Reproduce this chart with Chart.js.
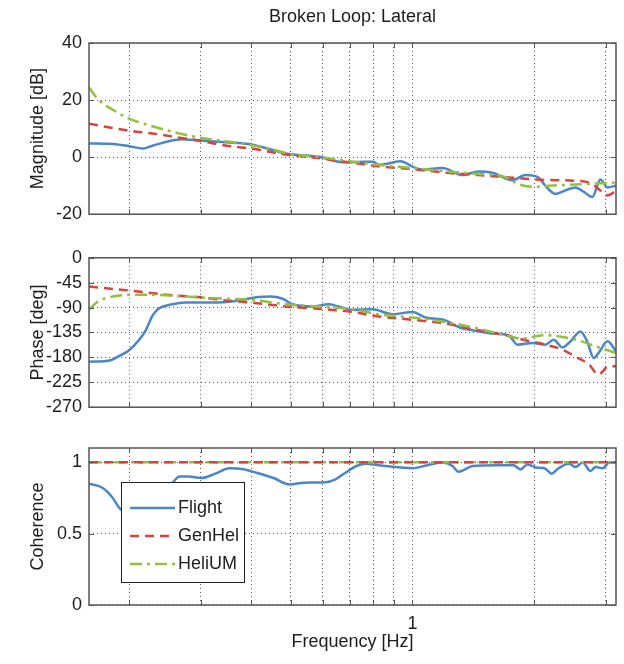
<!DOCTYPE html>
<html>
<head>
<meta charset="utf-8">
<title>Broken Loop: Lateral</title>
<script src="https://cdn.jsdelivr.net/npm/chart.js@4.4.1/dist/chart.umd.min.js"></script>
<style>
  html, body { margin: 0; padding: 0; background: #fff; }
  body { width: 624px; height: 664px; position: relative; overflow: hidden; }
  canvas { position: absolute; left: 0; }
  #magChart { top: 0; }
  #phaseChart { top: 240px; }
  #cohChart { top: 430px; }
</style>
</head>
<body>
<canvas id="magChart" width="624" height="232"></canvas>
<canvas id="phaseChart" width="624" height="185"></canvas>
<canvas id="cohChart" width="624" height="234"></canvas>

<script>
// ---------- Axes ----------
const freqMin = 0.159;   // 1 rad/s
const freqMax = 3.18;    // 20 rad/s
const freqTicks = [0.2, 0.3, 0.4, 0.5, 0.6, 0.7, 0.8, 0.9, 1, 2, 3];
const magTicks = [-20, 0, 20, 40];
const phaseTicks = [-270, -225, -180, -135, -90, -45, 0];
const cohTicks = [0, 0.5, 1];

// ---------- Magnitude [dB] ----------
const flightMagFreq = [0.159, 0.182, 0.199, 0.216, 0.228, 0.25, 0.27, 0.296, 0.345, 0.394, 0.434, 0.486, 0.586, 0.657, 0.69,
  0.765, 0.801, 0.824, 0.872, 0.934, 1.0, 1.058, 1.186, 1.329, 1.455, 1.576, 1.766, 1.9, 2.047, 2.13, 2.254, 2.4, 2.525,
  2.65, 2.78, 2.91, 3.03, 3.18];
const flightMag = [4.8, 4.6, 3.9, 3.0, 4.0, 5.6, 6.3, 5.9, 5.2, 4.6, 3.2, 1.3, 0.1, -1.6, -1.8,
  -1.6, -1.6, -2.7, -2.2, -1.4, -3.3, -4.4, -3.8, -6.3, -5.0, -5.5, -8.1, -6.3, -7.2, -10.1, -12.9, -11.5, -10.6,
  -12.2, -14.0, -7.8, -10.6, -10.0];

const genhelMagFreq = [0.159, 0.199, 0.228, 0.264, 0.296, 0.345, 0.403, 0.486, 0.586, 0.695, 0.824, 1.0, 1.22, 1.455,
  1.766, 2.13, 2.6, 2.78, 2.9, 3.03, 3.18];
const genhelMag = [11.7, 9.3, 8.3, 6.9, 5.8, 4.1, 2.9, 0.9, -0.3, -1.8, -3.2, -4.2, -5.5, -6.3,
  -7.2, -8.0, -8.4, -9.5, -11.5, -13.4, -11.8];

const heliumMagFreq = [0.159, 0.168, 0.182, 0.199, 0.228, 0.264, 0.296, 0.345, 0.403, 0.459, 0.506, 0.586, 0.683, 0.824,
  1.0, 1.206, 1.455, 1.697, 1.827, 1.977, 2.13, 2.6, 3.18];
const heliumMag = [24.4, 20.0, 16.6, 13.6, 10.8, 8.4, 6.9, 5.6, 4.1, 2.4, 0.9, 0.1, -1.2, -2.7,
  -3.8, -5.0, -5.9, -7.0, -9.5, -10.4, -10.1, -9.5, -8.9];

// ---------- Phase [deg] ----------
const flightPhaseFreq = [0.159, 0.18, 0.188, 0.199, 0.211, 0.2195, 0.228, 0.236, 0.2555, 0.275, 0.321, 0.366, 0.417,
  0.446, 0.478, 0.5055, 0.566, 0.62, 0.657, 0.711, 0.797, 0.892, 1.0, 1.077, 1.206, 1.299, 1.407, 1.576, 1.726, 1.816,
  1.977, 2.13, 2.23, 2.345, 2.455, 2.597, 2.7, 2.8, 2.88, 3.03, 3.18];
const flightPhase = [-188, -185, -178, -168, -149, -131, -105, -92, -84, -81, -81, -78, -71,
  -70, -74, -84, -88, -84, -88, -94, -93, -102, -98, -108, -113, -125, -131, -137, -140, -157,
  -154, -157, -148, -162, -151, -133, -151, -181, -172, -151, -169];

const genhelPhaseFreq = [0.159, 0.199, 0.25, 0.296, 0.345, 0.403, 0.486, 0.586, 0.711, 0.824, 1.0, 1.206, 1.455, 1.697,
  1.9, 2.13, 2.345, 2.56, 2.72, 2.88, 3.03, 3.18];
const genhelPhase = [-52, -59, -67, -71, -77, -81, -88, -92, -98, -106, -112, -119, -131, -140,
  -149, -157, -166, -181, -192, -211, -197, -196];

const heliumPhaseFreq = [0.159, 0.168, 0.182, 0.199, 0.228, 0.275, 0.345, 0.403, 0.486, 0.586, 0.711, 0.824, 1.0, 1.206,
  1.455, 1.697, 1.86, 1.977, 2.13, 2.345, 2.56, 2.83, 3.18];
const heliumPhase = [-93, -78, -70, -67, -67, -70, -74, -76, -84, -88, -93, -102, -108, -116,
  -128, -140, -146, -143, -140, -143, -149, -160, -172];

// ---------- Coherence ----------
const flightCohFreq = [0.159, 0.172, 0.182, 0.189, 0.2, 0.212, 0.225, 0.24, 0.255, 0.266, 0.28, 0.301, 0.326, 0.353,
  0.3825, 0.412, 0.454, 0.497, 0.541, 0.61, 0.645, 0.683, 0.727, 0.77, 0.815, 0.882, 0.995, 1.095, 1.186, 1.255, 1.299,
  1.407, 1.611, 1.775, 1.848, 1.923, 2.035, 2.118, 2.205, 2.294, 2.43, 2.526, 2.63, 2.751, 2.83, 2.945, 3.065, 3.18];
const flightCoh = [0.85, 0.82, 0.75, 0.68, 0.62, 0.58, 0.63, 0.74, 0.85, 0.90, 0.90, 0.89, 0.92, 0.958,
  0.951, 0.927, 0.89, 0.845, 0.857, 0.86, 0.88, 0.927, 0.974, 0.99, 0.981, 0.97, 0.958, 0.981, 0.998, 0.974, 0.934,
  0.974, 0.98, 0.98, 0.95, 0.985, 0.962, 0.958, 0.92, 0.958, 0.99, 0.967, 0.998, 0.939, 0.967, 0.958, 0.998, 0.998];

const modelCohFreq = [0.159, 3.18];
const genhelCoh = [1, 1];
const heliumCoh = [1, 1];

// ---------- Styles ----------
const FONT = "'Liberation Sans', Arial, sans-serif";
const TEXT = "#1e1e1e";
const FRAME = "#555";

const SERIES = {
  Flight: { color: "#4a86c8", dash: [], width: 2.5 },
  GenHel: { color: "#d6453d", dash: [9, 6], width: 2.5 },
  HeliUM: { color: "#96c03c", dash: [12, 5, 3, 5], width: 2.5 }
};
const legendOrder = ["Flight", "GenHel", "HeliUM"];

const pts = (f, v) => f.map((x, i) => ({ x, y: v[i] }));

function line(name, freq, vals, order) {
  const s = SERIES[name];
  return {
    label: name,
    data: pts(freq, vals),
    borderColor: s.color,
    borderDash: s.dash,
    borderWidth: s.width,
    pointRadius: 0,
    fill: false,
    cubicInterpolationMode: "monotone",
    order
  };
}

// ---------- Plugins ----------
// solid box round the plot area with MATLAB-style inward ticks
const frameBox = {
  id: "frameBox",
  afterDatasetsDraw(chart) {
    const { ctx, chartArea: a, scales } = chart;
    ctx.save();
    ctx.strokeStyle = FRAME;
    ctx.lineWidth = 1;
    ctx.beginPath();
    scales.x.ticks.forEach((t) => {
      const px = Math.round(scales.x.getPixelForValue(t.value)) + 0.5;
      ctx.moveTo(px, a.bottom); ctx.lineTo(px, a.bottom - 5);
      ctx.moveTo(px, a.top); ctx.lineTo(px, a.top + 5);
    });
    scales.y.ticks.forEach((t) => {
      const py = Math.round(scales.y.getPixelForValue(t.value)) + 0.5;
      ctx.moveTo(a.left, py); ctx.lineTo(a.left + 5, py);
      ctx.moveTo(a.right, py); ctx.lineTo(a.right - 5, py);
    });
    ctx.stroke();
    ctx.lineWidth = 1.5;
    ctx.strokeRect(a.left, a.top, a.right - a.left, a.bottom - a.top);
    ctx.restore();
  }
};

// boxed legend inside the coherence plot
const boxLegend = {
  id: "boxLegend",
  afterDatasetsDraw(chart) {
    const { ctx, chartArea: a } = chart;
    const x0 = a.left + 32, y0 = a.top + 34, w = 123, h = 100;
    ctx.save();
    ctx.fillStyle = "#fff";
    ctx.fillRect(x0, y0, w, h);
    ctx.strokeStyle = "#222";
    ctx.lineWidth = 1;
    ctx.strokeRect(x0 + 0.5, y0 + 0.5, w, h);
    ctx.font = "18px " + FONT;
    ctx.textBaseline = "middle";
    legendOrder.forEach((name, i) => {
      const s = SERIES[name];
      const y = y0 + 26 + i * 28;
      ctx.strokeStyle = s.color;
      ctx.lineWidth = s.width;
      ctx.setLineDash(s.dash);
      ctx.beginPath();
      ctx.moveTo(x0 + 9, y);
      ctx.lineTo(x0 + 54, y);
      ctx.stroke();
      ctx.setLineDash([]);
      ctx.fillStyle = TEXT;
      ctx.fillText(name, x0 + 57, y);
    });
    ctx.restore();
  }
};

// ---------- Shared scale builders ----------
function xScale(showLabels) {
  return {
    type: "logarithmic",
    min: freqMin,
    max: freqMax,
    afterBuildTicks: (s) => { s.ticks = freqTicks.map((v) => ({ value: v })); },
    afterFit: (s) => { s.height = showLabels ? 59 : 0; },
    grid: { color: "#5a5a5a", lineWidth: 1, drawTicks: false },
    border: { display: false, dash: [1, 3] },
    ticks: {
      display: showLabels,
      autoSkip: false,
      maxRotation: 0,
      padding: 8,
      color: TEXT,
      font: { family: FONT, size: 18 },
      callback: (v) => (Math.abs(v - 1) < 1e-9 ? "1" : "")
    },
    title: {
      display: showLabels,
      text: "Frequency [Hz]",
      color: TEXT,
      font: { family: FONT, size: 18 },
      padding: { top: 0, bottom: 11 }
    }
  };
}

function yScale(title, min, max, tickList) {
  return {
    type: "linear",
    min,
    max,
    afterBuildTicks: (s) => { s.ticks = tickList.map((v) => ({ value: v })); },
    afterFit: (s) => { s.width = 89; },
    grid: { color: "#5a5a5a", lineWidth: 1, drawTicks: false },
    border: { display: false, dash: [1, 3] },
    ticks: {
      autoSkip: false,
      padding: 7,
      color: TEXT,
      font: { family: FONT, size: 18 },
      callback: (v) => String(v)
    },
    title: {
      display: true,
      text: title,
      color: TEXT,
      font: { family: FONT, size: 18 },
      padding: { top: 27, bottom: 0 }
    }
  };
}

function baseOptions(padding) {
  return {
    responsive: false,
    animation: false,
    devicePixelRatio: 1,
    layout: { padding },
    plugins: { legend: { display: false }, tooltip: { enabled: false } }
  };
}

// ---------- Magnitude ----------
const magOpts = baseOptions({ top: 0, left: 0, right: 8, bottom: 12 });
magOpts.plugins.title = {
  display: true,
  text: "Broken Loop: Lateral",
  color: TEXT,
  fullSize: false,
  font: { family: FONT, size: 18, weight: "normal" },
  padding: { top: 6, bottom: 15.4 }
};
magOpts.scales = { x: xScale(false), y: yScale("Magnitude [dB]", -20, 40, magTicks) };

new Chart(document.getElementById("magChart"), {
  type: "line",
  data: {
    datasets: [
      line("Flight", flightMagFreq, flightMag, 3),
      line("GenHel", genhelMagFreq, genhelMag, 2),
      line("HeliUM", heliumMagFreq, heliumMag, 1)
    ]
  },
  options: magOpts,
  plugins: [frameBox]
});

// ---------- Phase ----------
const phaseOpts = baseOptions({ top: 17, left: 0, right: 8, bottom: 14 });
phaseOpts.scales = { x: xScale(false), y: yScale("Phase [deg]", -270, 0, phaseTicks) };

new Chart(document.getElementById("phaseChart"), {
  type: "line",
  data: {
    datasets: [
      line("Flight", flightPhaseFreq, flightPhase, 3),
      line("GenHel", genhelPhaseFreq, genhelPhase, 2),
      line("HeliUM", heliumPhaseFreq, heliumPhase, 1)
    ]
  },
  options: phaseOpts,
  plugins: [frameBox]
});

// ---------- Coherence ----------
const cohOpts = baseOptions({ top: 18, left: 0, right: 8, bottom: 0 });
cohOpts.scales = { x: xScale(true), y: yScale("Coherence", 0, 1.1, cohTicks) };

new Chart(document.getElementById("cohChart"), {
  type: "line",
  data: {
    datasets: [
      line("Flight", flightCohFreq, flightCoh, 3),
      line("HeliUM", modelCohFreq, heliumCoh, 2),
      line("GenHel", modelCohFreq, genhelCoh, 1)
    ]
  },
  options: cohOpts,
  plugins: [frameBox, boxLegend]
});
</script>
</body>
</html>
